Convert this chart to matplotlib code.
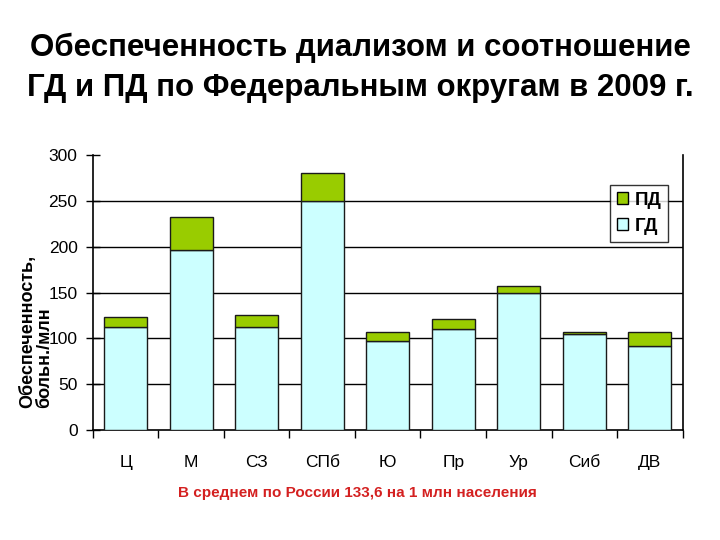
import matplotlib
matplotlib.use("Agg")
import matplotlib.pyplot as plt
import numpy as np
from matplotlib.patches import Patch

plt.rcParams['font.family'] = ['Liberation Sans', 'DejaVu Sans']

categories = ["Ц", "М", "СЗ", "СПб", "Ю", "Пр", "Ур", "Сиб", "ДВ"]
gd = [113, 196, 112, 250, 97.5, 110.5, 150, 105, 91.5]
pd_ = [10, 36, 14, 30, 9.5, 11, 7.5, 2, 16]
yticks = [0, 50, 100, 150, 200, 250, 300]

fig = plt.figure(figsize=(7.2, 5.4), dpi=100)
ax = fig.add_axes([0.129, 0.2031, 0.819, 0.5104])

x = np.arange(len(categories))
c_gd = "#CCFFFF"
c_pd = "#99CC00"
ax.bar(x, gd, width=0.66, color=c_gd, edgecolor="#1a1a1a", linewidth=1.0, zorder=3)
ax.bar(x, pd_, bottom=gd, width=0.66, color=c_pd, edgecolor="#1a1a1a", linewidth=1.0, zorder=3)

ax.set_xlim(-0.5, len(categories) - 0.5)
ax.set_ylim(0, 300)
ax.set_yticks(yticks)
ax.set_yticklabels([str(v) for v in yticks], fontsize=12.5)
for v in yticks[1:-1]:
    ax.axhline(v, color="black", linewidth=1.0, zorder=1)

ax.set_xticks(x)
ax.set_xticklabels(categories, fontsize=12.5)
ax.tick_params(axis='x', which='major', length=0, pad=18)
ax.set_xticks(np.arange(len(categories) + 1) - 0.5, minor=True)
ax.tick_params(axis='x', which='minor', length=6, width=1, direction='out', color='black')
ax.tick_params(axis='y', which='major', length=10, width=1, direction='inout', pad=6, color='black')

for s in ['left', 'right', 'bottom']:
    ax.spines[s].set_linewidth(1.2)
    ax.spines[s].set_color('black')
ax.spines['top'].set_visible(False)

handles = [Patch(facecolor=c_pd, edgecolor='black', label='ПД'),
           Patch(facecolor=c_gd, edgecolor='black', label='ГД')]
leg = ax.legend(handles=handles, loc='upper right', bbox_to_anchor=(0.975, 0.89),
                prop={'weight': 'bold', 'size': 13.5}, frameon=True, fancybox=False,
                handlelength=0.6, handleheight=0.6, handletextpad=0.35,
                borderpad=0.35, labelspacing=0.5, borderaxespad=0)
leg.get_frame().set_edgecolor('black')
leg.get_frame().set_linewidth(1.0)

fig.text(0.5, 1 - 48 / 540, "Обеспеченность диализом и соотношение",
         ha='center', va='center', fontsize=22.5, fontweight='bold')
fig.text(0.5, 1 - 88 / 540, "ГД и ПД по Федеральным округам в 2009 г.",
         ha='center', va='center', fontsize=22.5, fontweight='bold')

fig.text(36 / 720, 1 - 408 / 540, "Обеспеченность,\nбольн./млн", rotation=90,
         ha='center', va='bottom', multialignment='left', fontsize=13,
         fontweight='bold', linespacing=1.0)

fig.text(357 / 720, 1 - 493 / 540, "В среднем по России 133,6 на 1 млн населения",
         ha='center', va='center', fontsize=11, fontweight='bold', color='#D42020')

fig.savefig("out.png", dpi=100)
